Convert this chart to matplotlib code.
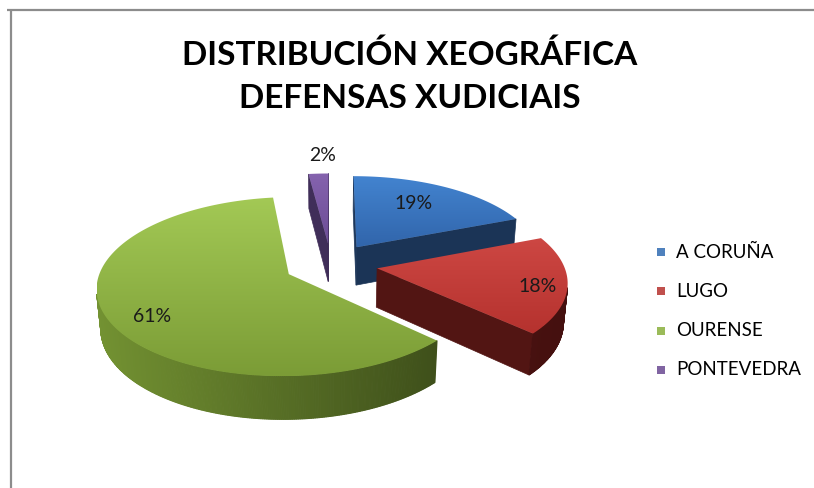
import numpy as np
import matplotlib
matplotlib.use("Agg")
import matplotlib.pyplot as plt
from matplotlib.patches import Polygon, Rectangle
from matplotlib.colors import to_rgb

# ---------------------------------------------------------------
# Datos
# ---------------------------------------------------------------
categorias = ["A CORUÑA", "LUGO", "OURENSE", "PONTEVEDRA"]
porcentaxes = [19, 18, 61, 2]
titulo = "DISTRIBUCIÓN XEOGRÁFICA\nDEFENSAS XUDICIAIS"

# Cores (cara superior clara/escura, lado claro/escuro, lenda)
C_TOP_HI = ["#4384D0", "#CD4743", "#A3C955", "#8563AE"]
C_TOP_LO = ["#3165AB", "#B5322E", "#7B9C36", "#6C4C96"]
C_SIDE_HI = ["#21406A", "#681D1A", "#739232", "#4B3668"]
C_SIDE_LO = ["#172B48", "#45100F", "#2C3812", "#2E2040"]
C_LEG = ["#4F81BD", "#C0504D", "#9BBB59", "#8064A2"]

# Xeometría da tarta 3D (perspectiva simple)
PHI = np.radians(29)
DIST = 6.5
FOCAL = 1191
H = 0.237
EXPL = 0.25
CX, CY = 331, 303
# posición das etiquetas: radio e desprazamento angular (graos)
LABEL_R = [0.68, 0.85, 0.8, 1.3]
LABEL_DA = [-3, 3, -7, 2]
CAM = np.array([0.0, -DIST * np.cos(PHI), DIST * np.sin(PHI)])


def proj(u, v, h):
    depth = DIST + v * np.cos(PHI) - h * np.sin(PHI)
    up = v * np.sin(PHI) + h * np.cos(PHI)
    return CX + FOCAL * u / depth, CY - FOCAL * up / depth


def mix(c1, c2, t):
    a, b = np.array(to_rgb(c1)), np.array(to_rgb(c2))
    t = min(max(t, 0), 1)
    return tuple(a + (b - a) * t)


def side_t(x):
    return (x - 95) / (560 - 95)


fig = plt.figure(figsize=(8.14, 4.88), dpi=100)
ax = fig.add_axes([0, 0, 1, 1])
ax.set_xlim(0, 814)
ax.set_ylim(488, 0)
ax.axis("off")

z = [1]


def nz():
    z[0] += 1
    return z[0]


# ángulos (graos, sentido horario desde arriba)
cum = np.concatenate([[0], np.cumsum(porcentaxes)]) * 3.6
slices = []
for i in range(len(porcentaxes)):
    a0, a1 = cum[i], cum[i + 1]
    mid = np.radians((a0 + a1) / 2)
    ou, ov = EXPL * np.sin(mid), EXPL * np.cos(mid)
    slices.append((i, a0, a1, ou, ov))

# debuxar de atrás cara adiante
for i, a0, a1, ou, ov in sorted(slices, key=lambda s: -s[4]):
    th = np.radians(np.linspace(a0, a1, max(int(a1 - a0) * 2, 4)))
    uu = ou + np.sin(th)
    vv = ov + np.cos(th)

    # caras radiais
    for ang, sign in ((a0, -1), (a1, 1)):
        t = np.radians(ang)
        n = np.array([sign * np.cos(t), -sign * np.sin(t), 0])
        p = np.array([ou, ov, 0])
        if np.dot(n, CAM - p) <= 0:
            continue
        eu, ev = ou + np.sin(t), ov + np.cos(t)
        pts = [proj(ou, ov, H), proj(eu, ev, H), proj(eu, ev, 0), proj(ou, ov, 0)]
        xm = np.mean([q[0] for q in pts])
        col = mix(C_SIDE_HI[i], C_SIDE_LO[i], side_t(xm) * 0.8)
        ax.add_patch(Polygon(pts, closed=True, fc=col, ec=col, lw=0.5, zorder=nz()))

    # lado curvo
    zs = nz()
    for k in range(len(th) - 1):
        tm = (th[k] + th[k + 1]) / 2
        n = np.array([np.sin(tm), np.cos(tm), 0])
        p = np.array([ou + np.sin(tm), ov + np.cos(tm), 0])
        if np.dot(n, CAM - p) <= 0:
            continue
        pts = [proj(uu[k], vv[k], H), proj(uu[k + 1], vv[k + 1], H),
               proj(uu[k + 1], vv[k + 1], 0), proj(uu[k], vv[k], 0)]
        col = mix(C_SIDE_HI[i], C_SIDE_LO[i], side_t(pts[0][0]))
        ax.add_patch(Polygon(pts, closed=True, fc=col, ec=col, lw=0.8, zorder=zs))

    # cara superior con degradado
    top = [proj(ou, ov, H)] + [proj(a, b, H) for a, b in zip(uu, vv)]
    poly = Polygon(top, closed=True, fc="none", ec="none", zorder=nz())
    ax.add_patch(poly)
    xs = [q[0] for q in top]
    ys = [q[1] for q in top]
    grad = np.array([mix(C_TOP_HI[i], C_TOP_LO[i], t) for t in np.linspace(0, 1, 200)])
    im = ax.imshow(grad[:, None, :], extent=(min(xs), max(xs), max(ys), min(ys)),
                   origin="upper", aspect="auto", interpolation="bilinear",
                   zorder=poly.get_zorder())
    im.set_clip_path(poly)

    # etiqueta
    la = np.radians((a0 + a1) / 2 + LABEL_DA[i])
    lx, ly = proj(ou + LABEL_R[i] * np.sin(la), ov + LABEL_R[i] * np.cos(la), H)
    ax.text(lx, ly, f"{porcentaxes[i]}%", ha="center", va="center",
            fontsize=14, family="Lato", color="#1A1A1A", zorder=100)

ax.set_xlim(0, 814)
ax.set_ylim(488, 0)

# título
ax.text(410, 76, titulo, ha="center", va="center", fontsize=24,
        fontweight="bold", family="Lato", color="black", linespacing=1.6)

# lenda
for k, cat in enumerate(categorias):
    yy = 252 + k * 39.3
    ax.add_patch(Rectangle((657, yy - 4), 8, 8, fc=C_LEG[k], ec="none"))
    ax.text(676, yy, cat, ha="left", va="center", fontsize=13.5,
            family="Lato", color="black")

# marco
ax.plot([7, 814], [10, 10], color="#8C8C8C", lw=1.6, solid_capstyle="butt")
ax.plot([11, 11], [10, 488], color="#8C8C8C", lw=1.6, solid_capstyle="butt")

fig.savefig("out.png", dpi=100)
